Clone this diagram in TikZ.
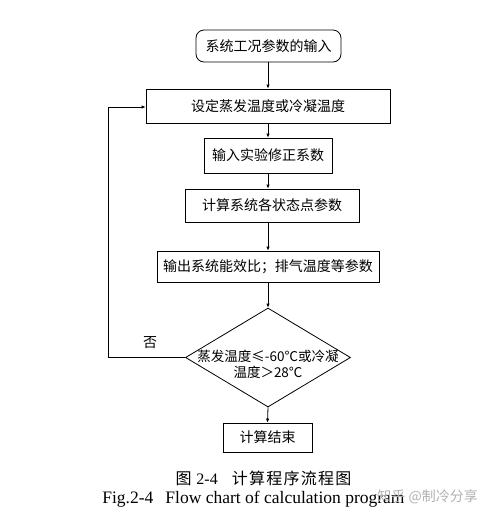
\documentclass[tikz,border=0pt]{standalone}
\usepackage{fontspec}
\setmainfont{Liberation Serif}
\newfontfamily\cjk{Noto Sans CJK SC}
\newfontfamily\cjkcap[LetterSpace=8]{Noto Sans CJK SC}
\usetikzlibrary{arrows.meta,shapes.geometric}

\begin{document}
\begin{tikzpicture}[x=1pt,y=-1pt,line width=0.8pt,
  procbox/.style={draw=black,rectangle,inner sep=0pt,font=\fbx},
  startbox/.style={procbox,rounded corners=8pt},
  decision/.style={draw=black,diamond,inner sep=0pt,minimum width=165pt,minimum height=99pt},
  flow/.style={-{Latex[length=4pt,width=3.5pt]}}]
\providecommand{\fbx}{\cjk\fontsize{14}{16}\selectfont}
\providecommand{\fdia}{\cjk\fontsize{13.5}{16}\selectfont}
\providecommand{\fcapzh}{\cjkcap\fontsize{16}{18}\selectfont}
\providecommand{\fcapen}{\fontsize{17.5}{20}\selectfont}
\providecommand{\fwm}{\cjk\fontsize{14}{16}\selectfont}
\useasboundingbox[fill=white] (0,0) rectangle (496,523);
\node[startbox,minimum width=145,minimum height=32] (start) at (268.5,46) {系统工况参数的输入};
\node[procbox,minimum width=244,minimum height=34] (settemp) at (268,106) {设定蒸发温度或冷凝温度};
\node[procbox,minimum width=128,minimum height=35] (corr) at (268,155.5) {输入实验修正系数};
\node[procbox,minimum width=174,minimum height=33] (state) at (272,205.5) {计算系统各状态点参数};
\node[procbox,minimum width=222,minimum height=31] (output) at (268,266.5) {输出系统能效比；排气温度等参数};
\node[decision] (check) at (268,357.5) {};
\node[font=\fdia,align=center,inner sep=0pt] (checktxt) at (268,364) {蒸发温度≤-60℃或冷凝\\温度＞28℃};
\node[procbox,minimum width=89,minimum height=29] (finish) at (267.5,437.5) {计算结束};
\node[font=\fbx,inner sep=0pt] (no) at (150,343) {否};
\coordinate (loopb) at (108,357.5);
\coordinate (loopt) at (108,107);
% connectors
\draw[flow] (start.south -| settemp.north) -- (settemp.north);
\draw[flow] (settemp.south) -- (corr.north);
\draw[flow] (corr.south) -- (corr.south |- state.north);
\draw[flow] (state.south -| output.north) -- (output.north);
\draw[flow] (output.south) -- (check.north);
\draw[flow] (check.south) -- (finish.north);
\draw[flow] (check.west) -- (loopb) -- (loopt) -- (loopt -| settemp.west);
% caption
\node[font=\fcapzh,inner sep=0pt] (capzh) at (263.5,478) {图 {\rmfamily 2-4}\hspace{14pt}计算程序流程图};
\node[font=\fcapen,anchor=west,inner sep=0pt] (capen) at (102,499) {Fig.2-4\hspace{12pt}Flow chart of calculation program};
\node[font=\fwm,text=black!30,anchor=west,inner sep=0pt] (mark) at (377,497) {知乎 @制冷分享};
\end{tikzpicture}
\end{document}
